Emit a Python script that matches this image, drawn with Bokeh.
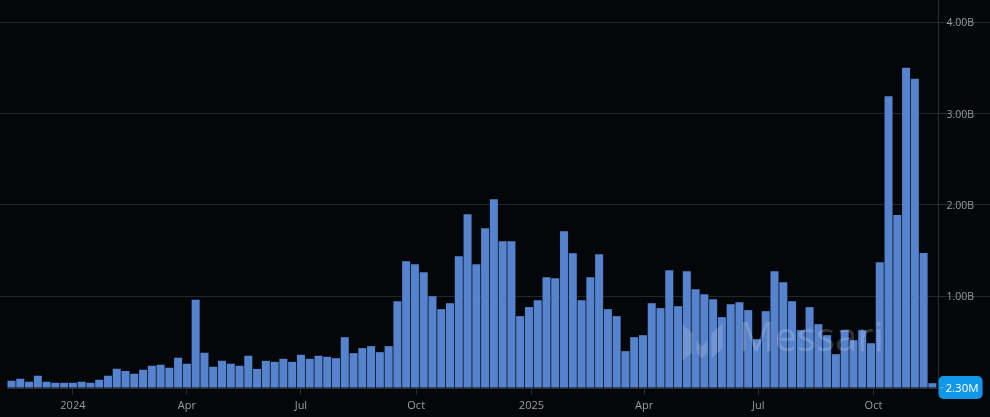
from bokeh.plotting import figure
from bokeh.embed import file_html
from bokeh.resources import INLINE
from bokeh.models import FixedTicker, Range1d, Label, PolyAnnotation
import pandas as pd

# Weekly volume, billions
first_week = "2023-11-13"
volume_b = [
    .073, .095, .062, .128, .062, .051, .051, .051, .062, .051, .084, .128, .204, .182, .150, .193,
    .237, .248, .215, .325, .259, .960, .380, .226, .292, .259, .237, .347, .204, .292, .281, .314,
    .281, .358, .314, .347, .336, .321, .551, .376, .431, .453, .387, .453, .945, 1.383, 1.350, 1.263,
    1.000, .858, .923, 1.438, 1.898, 1.350, 1.745, 2.062, 1.602, 1.602, .781, .880, .956, 1.208, 1.197, 1.712,
    1.471, .956, 1.208, 1.460, .858, .781, .398, .551, .573, .923, .869, 1.285, .890, 1.274, 1.077, 1.022,
    .967, .770, .912, .934, .847, .529, .836, 1.274, 1.153, .945, .628, .880, .693, .573, .365, .628,
    .518, .628, .485, 1.372, 3.190, 1.890, 3.500, 3.380, 1.474, .047,
]
y_ticks_b = [1, 2, 3, 4]
y_labels = ["1.00B", "2.00B", "3.00B", "4.00B"]
x_tick_dates = ["2024-01-01", "2024-04-01", "2024-07-01", "2024-10-01", "2025-01-01", "2025-04-01", "2025-07-01", "2025-10-01"]
x_labels = ["2024", "Apr", "Jul", "Oct", "2025", "Apr", "Jul", "Oct"]
last_value_label = "2.30M"
watermark = "Messari"

BG = "#05060a"
GRID = "#22272b"
AXIS = "#2a2d31"
TXT = "#999c9f"
BAR = "#5683cd"
FONT = "Open Sans"
DAY = 86400000
PX_PER_DAY = 1.2529
PX_PER_B = 91.33
DX = 2  # the canvas sits DX px left of the page edge
DY = 2  # and DY px above it

weeks = pd.date_range(first_week, periods=len(volume_b), freq="7D")
to_ms = lambda d: (pd.Timestamp(d) - pd.Timestamp("1970-01-01")).total_seconds() * 1000
x_start = to_ms(first_week) - (11 + DX) / PX_PER_DAY * DAY
px_to_x = lambda px: x_start + (px + DX) / PX_PER_DAY * DAY

p = figure(
    width=990 + DX, height=417 + DY, x_axis_type="datetime", output_backend="svg", toolbar_location=None,
    x_range=Range1d(x_start, px_to_x(990)),
    y_range=Range1d(-(417 - 387) / PX_PER_B, (387 + DY) / PX_PER_B),
    y_axis_location="right",
    background_fill_color=BG, border_fill_color=BG, outline_line_color=None,
    min_border_left=0, min_border_right=0, min_border_top=0, min_border_bottom=0,
    styles={"position": "fixed", "left": f"-{DX}px", "top": f"-{DY}px"},
)

p.vbar(x=weeks, top=volume_b, bottom=0, width=6.4 * DAY, fill_color=BAR, line_color=None)

xt = [to_ms(d) for d in x_tick_dates]
xa = p.xaxis[0]
xa.ticker = FixedTicker(ticks=xt)
xa.major_label_overrides = dict(zip(xt, x_labels))
xa.bounds = (px_to_x(7), px_to_x(938))
xa.fixed_location = -1 / PX_PER_B
ya = p.yaxis[0]
ya.ticker = FixedTicker(ticks=y_ticks_b)
ya.major_label_overrides = dict(zip(y_ticks_b, y_labels))
ya.fixed_location = px_to_x(938)
ya.bounds = (-1 / PX_PER_B, (387 + DY) / PX_PER_B)
for a in (xa, ya):
    a.axis_line_color = AXIS
    a.major_tick_line_color = AXIS
    a.minor_tick_line_color = None
    a.major_tick_in = 0
    a.major_tick_out = 6
    a.major_label_text_color = TXT
    a.major_label_text_font = FONT
    a.major_label_text_font_size = "11px"
    a.major_label_standoff = 2
    a.major_label_orientation = "horizontal"
ya.major_label_text_font_size = "10.5px"
p.xgrid.visible = False
p.ygrid.grid_line_color = GRID
p.ygrid.ticker = FixedTicker(ticks=y_ticks_b)
p.ygrid.bounds = (px_to_x(7), px_to_x(938))

# Watermark
WM = "#ffffff"
for xs, ys in [
    ([682, 692, 692, 682], [324, 333, 352, 360]),
    ([696, 701, 707, 707, 701, 696], [340, 346, 340, 352, 358, 352]),
    ([711, 722, 722, 711], [333, 323, 348, 358]),
]:
    p.add_layout(PolyAnnotation(xs=[v + DX for v in xs], ys=[v + DY for v in ys],
                                xs_units="canvas", ys_units="canvas",
                                fill_color=WM, fill_alpha=0.17, line_color=None))
p.add_layout(Label(x=738 + DX, y=362 + DY, x_units="canvas", y_units="canvas", text=watermark,
                   text_font=FONT, text_font_size="40px", text_color=WM, text_alpha=0.18,
                   text_baseline="bottom"))

# Last value tag
p.add_layout(Label(x=938 + DX, y=387 + DY, x_units="canvas", y_units="canvas", text=last_value_label,
                   text_font=FONT, text_font_size="11.5px", text_color="#ffffff",
                   text_baseline="middle", text_align="left",
                   background_fill_color="#0f97e8", border_radius=5,
                   padding=dict(left=7, right=4, top=4, bottom=4)))
p.add_layout(PolyAnnotation(xs=[940 + DX, 943 + DX, 943 + DX, 940 + DX],
                            ys=[386.5 + DY, 386.5 + DY, 387.5 + DY, 387.5 + DY],
                            xs_units="canvas", ys_units="canvas", fill_color="#ffffff", line_color=None))

open("out.html", "w").write(file_html(p, INLINE))
